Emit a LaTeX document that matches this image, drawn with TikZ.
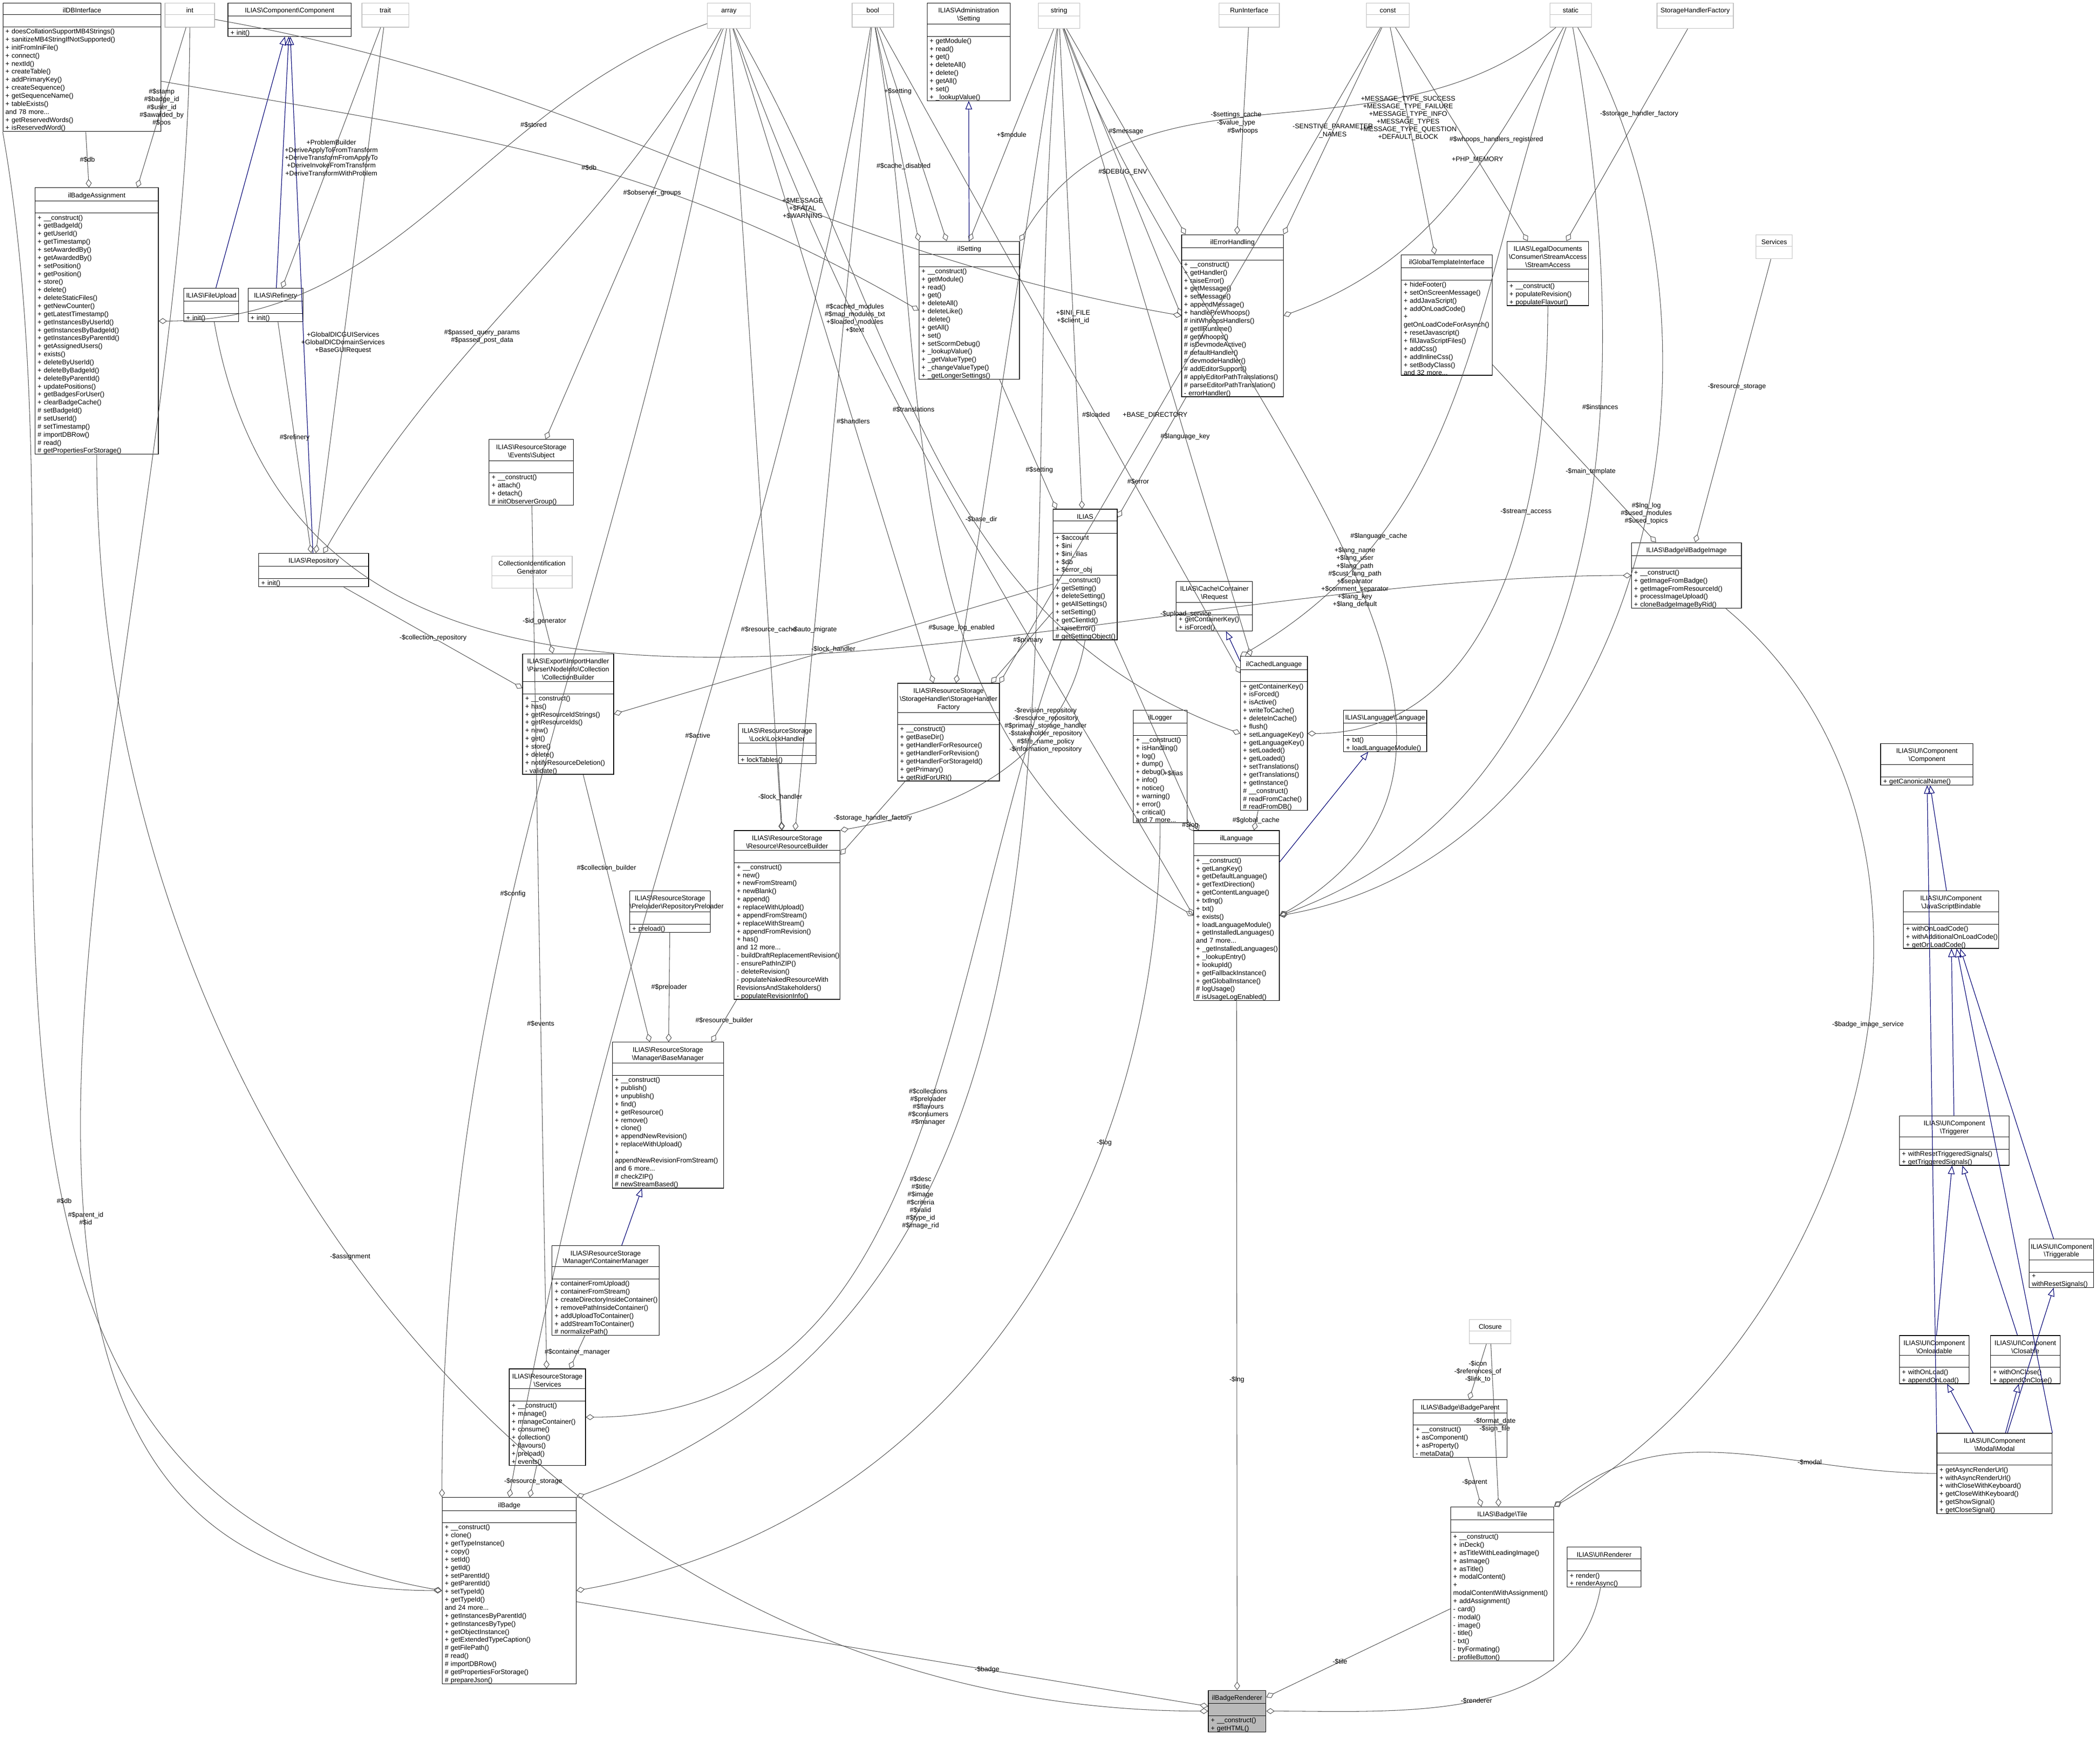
\documentclass[tikz,border=0pt]{standalone}
\usepackage{fontspec}
\setmainfont{Liberation Sans}
\usetikzlibrary{positioning,arrows.meta}

\newcommand\bs{\textbackslash{}}
\newcommand\clsbox[2]{\vskip1pt{\centering #1\par}\vskip1pt\hrule height .3pt\vskip7pt\hrule height .3pt\vskip1pt{\raggedright\leftskip1.5pt #2\par}\vskip1.5pt}
\newcommand\extbox[1]{\vskip1pt{\centering #1\par}\vskip1pt{\color{gray!50}\hrule height .3pt\vskip7pt\hrule height .3pt}\vskip7pt}
% class box: name, x, y, width, title, members
\newcommand\cls[6]{\pgfmathsetmacro\clsw{#4*0.0281}%
  \node[cls, text width=\clsw cm] (#1) at (#2,#3) {\clsbox{#5}{#6}};}
\newcommand\ext[5]{\pgfmathsetmacro\clsw{#4*0.0281}%
  \node[ext, text width=\clsw cm] (#1) at (#2,#3) {\extbox{#5}};}

\tikzset{
  cls/.style={draw, anchor=north west, inner sep=0pt, line width=0.35pt,
    font=\fontsize{4}{4.8}\selectfont},
  ext/.style={cls, draw=gray!50},
  agg/.style={draw=black!70, line width=0.3pt,
    -{Diamond[open,length=5pt,width=3.5pt]}},
  inh/.style={draw=blue!45!black, line width=0.35pt,
    -{Triangle[open,length=5pt,width=4pt]}},
  lbl/.style={font=\fontsize{4}{4.6}\selectfont, align=center, inner sep=1pt}
}

\begin{document}
\begin{tikzpicture}[x=0.0281cm, y=-0.0281cm]
\useasboundingbox (0,0) rectangle (1568,1297);

% top row
\cls{dbi}{2}{2}{118}{ilDBInterface}{+ doesCollationSupportMB4Strings()\\+ sanitizeMB4StringIfNotSupported()\\+ initFromIniFile()\\+ connect()\\+ nextId()\\+ createTable()\\+ addPrimaryKey()\\+ createSequence()\\+ getSequenceName()\\+ tableExists()\\and 78 more...\\+ getReservedWords()\\+ isReservedWord()}
\ext{int}{123}{2}{37}{int}
\cls{comp}{170}{2}{92}{ILIAS\bs Component\bs Component}{+ init()}
\ext{trait}{270}{2}{35}{trait}
\ext{array}{528}{2}{32}{array}
\ext{bool}{636}{2}{31}{bool}
\cls{admset}{692}{2}{62}{ILIAS\bs Administration\\\bs Setting}{+ getModule()\\+ read()\\+ get()\\+ deleteAll()\\+ delete()\\+ getAll()\\+ set()\\+ \_lookupValue()}
\ext{string}{775}{2}{31}{string}
\ext{run}{910}{2}{45}{RunInterface}
\ext{const}{1020}{2}{32}{const}
\ext{static}{1157}{2}{31}{static}
\ext{shfact}{1237}{2}{57}{StorageHandlerFactory}

% upper band
\cls{assign}{26}{140}{92}{ilBadgeAssignment}{+ \_\_construct()\\+ getBadgeId()\\+ getUserId()\\+ getTimestamp()\\+ setAwardedBy()\\+ getAwardedBy()\\+ setPosition()\\+ getPosition()\\+ store()\\+ delete()\\+ deleteStaticFiles()\\+ getNewCounter()\\+ getLatestTimestamp()\\+ getInstancesByUserId()\\+ getInstancesByBadgeId()\\+ getInstancesByParentId()\\+ getAssignedUsers()\\+ exists()\\+ deleteByUserId()\\+ deleteByBadgeId()\\+ deleteByParentId()\\+ updatePositions()\\+ getBadgesForUser()\\+ clearBadgeCache()\\\# setBadgeId()\\\# setUserId()\\\# setTimestamp()\\\# importDBRow()\\\# read()\\\# getPropertiesForStorage()}
\cls{upload}{137}{215}{41}{ILIAS\bs FileUpload}{+ init()}
\cls{refinery}{185}{215}{41}{ILIAS\bs Refinery}{+ init()}
\cls{ilset}{686}{180}{75}{ilSetting}{+ \_\_construct()\\+ getModule()\\+ read()\\+ get()\\+ deleteAll()\\+ deleteLike()\\+ delete()\\+ getAll()\\+ set()\\+ setScormDebug()\\+ \_lookupValue()\\+ \_getValueType()\\+ \_changeValueType()\\+ \_getLongerSettings()}
\cls{err}{882}{175}{76}{ilErrorHandling}{+ \_\_construct()\\+ getHandler()\\+ raiseError()\\+ getMessage()\\+ setMessage()\\+ appendMessage()\\+ handlePreWhoops()\\\# initWhoopsHandlers()\\\# getIlRuntime()\\\# getWhoops()\\\# isDevmodeActive()\\\# defaultHandler()\\\# devmodeHandler()\\\# addEditorSupport()\\\# applyEditorPathTranslations()\\\# parseEditorPathTranslation()\\- errorHandler()}
\cls{gtpl}{1046}{190}{68}{ilGlobalTemplateInterface}{+ hideFooter()\\+ setOnScreenMessage()\\+ addJavaScript()\\+ addOnLoadCode()\\+ getOnLoadCodeForAsynch()\\+ resetJavascript()\\+ fillJavaScriptFiles()\\+ addCss()\\+ addInlineCss()\\+ setBodyClass()\\and 32 more...}
\cls{stream}{1125}{180}{61}{ILIAS\bs LegalDocuments\\\bs Consumer\bs StreamAccess\\\bs StreamAccess}{+ \_\_construct()\\+ populateRevision()\\+ populateFlavour()}
\ext{services}{1311}{175}{27}{Services}

% middle band
\cls{repo}{193}{413}{82}{ILIAS\bs Repository}{+ init()}
\cls{subject}{365}{328}{63}{ILIAS\bs ResourceStorage\\\bs Events\bs Subject}{+ \_\_construct()\\+ attach()\\+ detach()\\\# initObserverGroup()}
\ext{cig}{367}{415}{60}{CollectionIdentification\\Generator}
\cls{collb}{390}{488}{68}{ILIAS\bs Export\bs ImportHandler\\\bs Parser\bs NodeInfo\bs Collection\\\bs CollectionBuilder}{+ \_\_construct()\\+ has()\\+ getResourceIdStrings()\\+ getResourceIds()\\+ new()\\+ get()\\+ store()\\+ delete()\\+ notifyResourceDeletion()\\- validate()}
\cls{ilias}{786}{380}{48}{ILIAS}{+ \$account\\+ \$ini\\+ \$ini\_ilias\\+ \$db\\+ \$error\_obj\par\vskip1pt\hrule height .3pt\vskip1pt+ \_\_construct()\\+ getSetting()\\+ deleteSetting()\\+ getAllSettings()\\+ setSetting()\\+ getClientId()\\+ raiseError()\\\# getSettingObject()}
\cls{request}{878}{434}{57}{ILIAS\bs Cache\bs Container\\\bs Request}{+ getContainerKey()\\+ isForced()}
\cls{cached}{926}{490}{50}{ilCachedLanguage}{+ getContainerKey()\\+ isForced()\\+ isActive()\\+ writeToCache()\\+ deleteInCache()\\+ flush()\\+ setLanguageKey()\\+ getLanguageKey()\\+ setLoaded()\\+ getLoaded()\\+ setTranslations()\\+ getTranslations()\\+ getInstance()\\\# \_\_construct()\\\# readFromCache()\\\# readFromDB()}
\cls{bimage}{1218}{405}{82}{ILIAS\bs Badge\bs ilBadgeImage}{+ \_\_construct()\\+ getImageFromBadge()\\+ getImageFromResourceId()\\+ processImageUpload()\\+ cloneBadgeImageByRid()}
\cls{lock}{551}{540}{58}{ILIAS\bs ResourceStorage\\\bs Lock\bs LockHandler}{+ lockTables()}
\cls{shf}{670}{510}{76}{ILIAS\bs ResourceStorage\\\bs StorageHandler\bs StorageHandler\\Factory}{+ \_\_construct()\\+ getBaseDir()\\+ getHandlerForResource()\\+ getHandlerForRevision()\\+ getHandlerForStorageId()\\+ getPrimary()\\+ getRidForURI()}
\cls{logger}{846}{530}{40}{ilLogger}{+ \_\_construct()\\+ isHandling()\\+ log()\\+ dump()\\+ debug()\\+ info()\\+ notice()\\+ warning()\\+ error()\\+ critical()\\and 7 more...}
\cls{langif}{1003}{530}{62}{ILIAS\bs Language\bs Language}{+ txt()\\+ loadLanguageModule()}
\cls{uicomp}{1404}{555}{69}{ILIAS\bs UI\bs Component\\\bs Component}{+ getCanonicalName()}
\cls{resb}{548}{620}{79}{ILIAS\bs ResourceStorage\\\bs Resource\bs ResourceBuilder}{+ \_\_construct()\\+ new()\\+ newFromStream()\\+ newBlank()\\+ append()\\+ replaceWithUpload()\\+ appendFromStream()\\+ replaceWithStream()\\+ appendFromRevision()\\+ has()\\and 12 more...\\- buildDraftReplacementRevision()\\- ensurePathInZIP()\\- deleteRevision()\\- populateNakedResourceWith\\RevisionsAndStakeholders()\\- populateRevisionInfo()}
\cls{preload}{470}{665}{60}{ILIAS\bs ResourceStorage\\\bs Preloader\bs RepositoryPreloader}{+ preload()}
\cls{lang}{891}{620}{64}{ilLanguage}{+ \_\_construct()\\+ getLangKey()\\+ getDefaultLanguage()\\+ getTextDirection()\\+ getContentLanguage()\\+ txtlng()\\+ txt()\\+ exists()\\+ loadLanguageModule()\\+ getInstalledLanguages()\\and 7 more...\\+ \_getInstalledLanguages()\\+ \_lookupEntry()\\+ lookupId()\\+ getFallbackInstance()\\+ getGlobalInstance()\\\# logUsage()\\\# isUsageLogEnabled()}
\cls{jsb}{1421}{665}{71}{ILIAS\bs UI\bs Component\\\bs JavaScriptBindable}{+ withOnLoadCode()\\+ withAdditionalOnLoadCode()\\+ getOnLoadCode()}

% lower band
\cls{basem}{457}{778}{83}{ILIAS\bs ResourceStorage\\\bs Manager\bs BaseManager}{+ \_\_construct()\\+ publish()\\+ unpublish()\\+ find()\\+ getResource()\\+ remove()\\+ clone()\\+ appendNewRevision()\\+ replaceWithUpload()\\+ appendNewRevisionFromStream()\\and 6 more...\\\# checkZIP()\\\# newStreamBased()}
\cls{trigger}{1418}{833}{82}{ILIAS\bs UI\bs Component\\\bs Triggerer}{+ withResetTriggeredSignals()\\+ getTriggeredSignals()}
\cls{triggable}{1515}{925}{48}{ILIAS\bs UI\bs Component\\\bs Triggerable}{+ withResetSignals()}
\cls{contm}{412}{930}{80}{ILIAS\bs ResourceStorage\\\bs Manager\bs ContainerManager}{+ containerFromUpload()\\+ containerFromStream()\\+ createDirectoryInsideContainer()\\+ removePathInsideContainer()\\+ addUploadToContainer()\\+ addStreamToContainer()\\\# normalizePath()}
\ext{closure}{1097}{985}{31}{Closure}
\cls{onload}{1418}{997}{52}{ILIAS\bs UI\bs Component\\\bs Onloadable}{+ withOnLoad()\\+ appendOnLoad()}
\cls{closable}{1486}{997}{52}{ILIAS\bs UI\bs Component\\\bs Closable}{+ withOnClose()\\+ appendOnClose()}
\cls{bparent}{1055}{1045}{70}{ILIAS\bs Badge\bs BadgeParent}{+ \_\_construct()\\+ asComponent()\\+ asProperty()\\- metaData()}
\cls{rsserv}{380}{1022}{57}{ILIAS\bs ResourceStorage\\\bs Services}{+ \_\_construct()\\+ manage()\\+ manageContainer()\\+ consume()\\+ collection()\\+ flavours()\\+ preload()\\+ events()}
\cls{badge}{330}{1118}{100}{ilBadge}{+ \_\_construct()\\+ clone()\\+ getTypeInstance()\\+ copy()\\+ setId()\\+ getId()\\+ setParentId()\\+ getParentId()\\+ setTypeId()\\+ getTypeId()\\and 24 more...\\+ getInstancesByParentId()\\+ getInstancesByType()\\+ getObjectInstance()\\+ getExtendedTypeCaption()\\\# getFilePath()\\\# read()\\\# importDBRow()\\\# getPropertiesForStorage()\\\# prepareJson()}
\cls{modal}{1446}{1070}{86}{ILIAS\bs UI\bs Component\\\bs Modal\bs Modal}{+ getAsyncRenderUrl()\\+ withAsyncRenderUrl()\\+ withCloseWithKeyboard()\\+ getCloseWithKeyboard()\\+ getShowSignal()\\+ getCloseSignal()}
\cls{tile}{1083}{1125}{77}{ILIAS\bs Badge\bs Tile}{+ \_\_construct()\\+ inDeck()\\+ asTitleWithLeadingImage()\\+ asImage()\\+ asTitle()\\+ modalContent()\\+ modalContentWithAssignment()\\+ addAssignment()\\- card()\\- modal()\\- image()\\- title()\\- txt()\\- tryFormating()\\- profileButton()}
\cls{uirend}{1170}{1155}{55}{ILIAS\bs UI\bs Renderer}{+ render()\\+ renderAsync()}
\node[cls, fill=gray!55, text width=43*0.0281cm] (rend) at (902,1262) {\clsbox{ilBadgeRenderer}{+ \_\_construct()\\+ getHTML()}};

% inheritance
\draw[inh] (upload) -- (comp);
\draw[inh] (refinery) -- (comp);
\draw[inh] (repo) -- (comp);
\draw[inh] (ilset) -- (admset);
\draw[inh] (cached) -- (request);
\draw[inh] (lang) -- (langif);
\draw[inh] (contm) -- (basem);
\draw[inh] (jsb) -- (uicomp);
\draw[inh] (modal.north west) -- (uicomp);
\draw[inh] (trigger) -- (jsb);
\draw[inh] (triggable) -- (jsb);
\draw[inh] (modal.north east) -- (jsb);
\draw[inh] (onload) -- (trigger);
\draw[inh] (closable) -- (trigger);
\draw[inh] (modal) -- (onload);
\draw[inh] (modal) -- (closable);
\draw[inh] (modal) -- (triggable);

% members
\draw[agg] (dbi) -- node[lbl]{\#\$db} (assign);
\draw[agg] (int) -- node[lbl]{\#\$stamp\\\#\$badge\_id\\\#\$user\_id\\\#\$awarded\_by\\\#\$pos} (assign);
\draw[agg] (dbi.south west) to[out=-80,in=170] node[lbl, pos=0.6]{\#\$db} (badge.west);
\draw[agg] (int) to[out=-90,in=180] node[lbl, pos=0.6]{\#\$parent\_id\\\#\$id} (badge);
\draw[agg] (assign) to[out=-90,in=180] node[lbl, pos=0.45]{-\$assignment} (rend.west);
\draw[agg] (array) to[out=200,in=0] node[lbl, pos=0.3]{\#\$stored} (assign);
\draw[agg] (trait) -- node[lbl]{+ProblemBuilder\\+DeriveApplyToFromTransform\\+DeriveTransformFromApplyTo\\+DeriveInvokeFromTransform\\+DeriveTransformWithProblem} (refinery);
\draw[agg] (trait) -- node[lbl, pos=0.6]{+GlobalDICGUIServices\\+GlobalDICDomainServices\\+BaseGUIRequest} (repo);
\draw[agg] (refinery) -- node[lbl]{\#\$refinery} (repo);
\draw[agg] (array) to[out=240,in=60] node[lbl, pos=0.6]{\#\$passed\_query\_params\\\#\$passed\_post\_data} (repo);
\draw[agg] (array) -- node[lbl, pos=0.4]{\#\$observer\_groups} (subject);
\draw[agg] (dbi) to[out=-10,in=150] node[lbl, pos=0.55]{\#\$db} (ilset.west);
\draw[agg] (int) to[out=-10,in=170] node[lbl, pos=0.62]{+\$MESSAGE\\+\$FATAL\\+\$WARNING} (err.west);
\draw[agg] (bool) -- node[lbl, pos=0.3]{+\$setting} (ilset);
\draw[agg] (bool) -- node[lbl, pos=0.65]{\#\$cache\_disabled} (ilset.north west);
\draw[agg] (string) -- node[lbl, pos=0.5]{+\$module} (ilset.north);
\draw[agg] (static) to[out=220,in=60] node[lbl, pos=0.55]{-\$settings\_cache\\-\$value\_type} (ilset.north east);
\draw[agg] (string) -- node[lbl, pos=0.5]{\#\$DEBUG\_ENV} (err.west);
\draw[agg] (string) -- node[lbl, pos=0.5]{\#\$message} (err);
\draw[agg] (run) -- node[lbl, pos=0.5]{\#\$whoops} (err);
\draw[agg] (const) -- node[lbl, pos=0.5]{-SENSTIVE\_PARAMETER\\\_NAMES} (err.north east);
\draw[agg] (static) to[out=240,in=20] node[lbl, pos=0.3]{\#\$whoops\_handlers\_registered} (err.east);
\draw[agg] (const) -- node[lbl, pos=0.4]{+MESSAGE\_TYPE\_SUCCESS\\+MESSAGE\_TYPE\_FAILURE\\+MESSAGE\_TYPE\_INFO\\+MESSAGE\_TYPES\\+MESSAGE\_TYPE\_QUESTION\\+DEFAULT\_BLOCK} (gtpl);
\draw[agg] (const) -- node[lbl, pos=0.62]{+PHP\_MEMORY} (stream);
\draw[agg] (shfact) -- node[lbl, pos=0.4]{-\$storage\_handler\_factory} (stream);
\draw[agg] (services) -- node[lbl, pos=0.45]{-\$resource\_storage} (bimage);
\draw[agg] (gtpl) -- node[lbl, pos=0.6]{-\$main\_template} (bimage);
\draw[agg] (upload) to[out=-80,in=180] node[lbl, pos=0.75]{-\$upload\_service} (bimage.west);
\draw[agg] (string) -- node[lbl, pos=0.6]{+\$INI\_FILE\\+\$client\_id} (ilias);
\draw[agg] (ilset) -- node[lbl, pos=0.7]{\#\$setting} (ilias);
\draw[agg] (err) -- node[lbl, pos=0.7]{\#\$error} (ilias);
\draw[agg] (const) to[out=240,in=60] node[lbl, pos=0.6]{+BASE\_DIRECTORY} (shf.north east);
\draw[agg] (string) -- node[lbl, pos=0.75]{-\$base\_dir} (shf);
\draw[agg] (array) -- node[lbl, pos=0.6]{\#\$handlers} (shf);
\draw[agg] (string) -- node[lbl, pos=0.65]{\#\$language\_key} (cached);
\draw[agg] (bool) -- node[lbl, pos=0.6]{\#\$loaded} (cached);
\draw[agg] (array) to[out=-60,in=160] node[lbl, pos=0.45]{\#\$translations} (cached.west);
\draw[agg] (static) to[out=250,in=30] node[lbl, pos=0.75]{\#\$language\_cache} (cached.north west);
\draw[agg] (stream) to[out=-90,in=0] node[lbl, pos=0.35]{-\$stream\_access} (cached.east);
\draw[agg] (array) -- node[lbl, pos=0.75]{\#\$resource\_cache} (resb);
\draw[agg] (bool) -- node[lbl, pos=0.75]{-\$auto\_migrate} (resb);
\draw[agg] (lock) -- node[lbl]{-\$lock\_handler} (resb);
\draw[agg] (ilias) -- node[lbl, pos=0.5]{-\$lock\_handler} (collb.east);
\draw[agg] (ilias) -- node[lbl, pos=0.4]{\#\$primary} (shf);
\draw[agg] (shf) -- node[lbl, pos=0.5]{-\$storage\_handler\_factory} (resb);
\draw[agg] (ilias.south) to[out=-100,in=10] node[lbl, pos=0.3]{-\$revision\_repository\\-\$resource\_repository\\\#\$primary\_storage\_handler\\-\$stakeholder\_repository\\\#\$file\_name\_policy\\-\$information\_repository} (resb.north east);
\draw[agg] (array) to[out=-70,in=120] node[lbl, pos=0.3]{\#\$cached\_modules\\\#\$map\_modules\_txt\\+\$loaded\_modules\\+\$text} (lang.west);
\draw[agg] (bool) to[out=-80,in=150] node[lbl, pos=0.6]{\#\$usage\_log\_enabled} (lang.west);
\draw[agg] (ilias) -- node[lbl, pos=0.7]{+\$ilias} (lang);
\draw[agg] (logger) -- node[lbl, pos=0.5]{\#\$log} (lang);
\draw[agg] (cached) -- node[lbl, pos=0.5]{\#\$global\_cache} (lang);
\draw[agg] (string) to[out=-70,in=30] node[lbl, pos=0.55]{+\$lang\_name\\+\$lang\_user\\+\$lang\_path\\\#\$cust\_lang\_path\\+\$separator\\+\$comment\_separator\\+\$lang\_key\\+\$lang\_default} (lang.east);
\draw[agg] (static) to[out=-60,in=10] node[lbl, pos=0.45]{\#\$lng\_log\\\#\$used\_modules\\\#\$used\_topics} (lang.east);
\draw[agg] (static) to[out=-80,in=20] node[lbl, pos=0.35]{\#\$instances} (lang.east);
\draw[agg] (repo) -- node[lbl]{-\$collection\_repository} (collb);
\draw[agg] (cig) -- node[lbl]{-\$id\_generator} (collb);
\draw[agg] (preload) -- node[lbl]{\#\$preloader} (basem);
\draw[agg] (resb) -- node[lbl]{\#\$resource\_builder} (basem);
\draw[agg] (collb) -- node[lbl, pos=0.35]{\#\$collection\_builder} (basem);
\draw[agg] (contm) -- node[lbl]{\#\$container\_manager} (rsserv);
\draw[agg] (subject) -- node[lbl, pos=0.6]{\#\$events} (rsserv);
\draw[agg] (ilias) to[out=-110,in=0] node[lbl, pos=0.45]{\#\$collections\\\#\$preloader\\\#\$flavours\\\#\$consumers\\\#\$manager} (rsserv.east);
\draw[agg] (array) to[out=-100,in=90] node[lbl, pos=0.6]{\#\$config} (badge.north west);
\draw[agg] (bool) to[out=-100,in=80] node[lbl, pos=0.48]{\#\$active} (badge.north);
\draw[agg] (rsserv) -- node[lbl]{-\$resource\_storage} (badge);
\draw[agg] (string) to[out=-95,in=20] node[lbl, pos=0.7]{\#\$desc\\\#\$title\\\#\$image\\\#\$criteria\\\#\$valid\\\#\$type\_id\\\#\$image\_rid} (badge.north east);
\draw[agg] (logger) to[out=-90,in=10] node[lbl, pos=0.3]{-\$log} (badge.east);
\draw[agg] (lang) -- node[lbl, pos=0.55]{-\$lng} (rend);
\draw[agg] (badge) -- node[lbl, pos=0.65]{-\$badge} (rend);
\draw[agg] (tile) -- node[lbl, pos=0.6]{-\$tile} (rend);
\draw[agg] (uirend) to[out=-100,in=0] node[lbl, pos=0.5]{-\$renderer} (rend.east);
\draw[agg] (bparent) -- node[lbl]{-\$parent} (tile);
\draw[agg] (closure) -- node[lbl]{-\$icon\\-\$references\_of\\-\$link\_to} (bparent);
\draw[agg] (closure) -- node[lbl]{-\$format\_date\\-\$sign\_file} (tile);
\draw[agg] (bimage) to[out=-40,in=30] node[lbl, pos=0.45]{-\$badge\_image\_service} (tile.north east);
\draw[agg] (modal) to[out=180,in=40] node[lbl, pos=0.3]{-\$modal} (tile.north east);
\end{tikzpicture}
\end{document}
